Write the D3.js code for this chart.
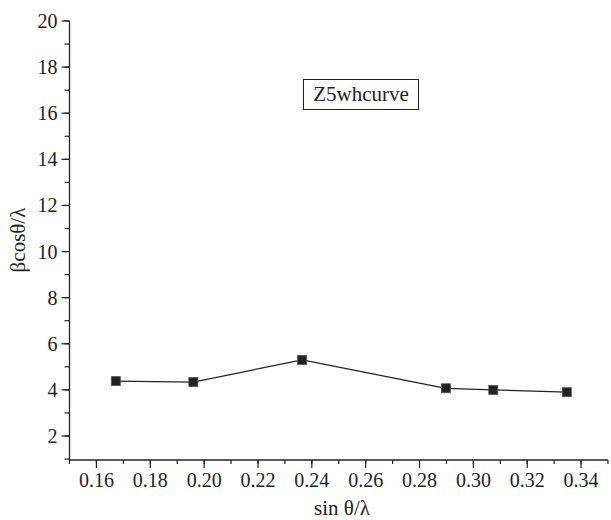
<!DOCTYPE html>
<html>
<head>
<meta charset="utf-8">
<script src="https://cdn.jsdelivr.net/npm/d3@7"></script>
<style>
  body { margin: 0; background: #fff; }
</style>
</head>
<body>
<svg id="chart" width="611" height="520"></svg>
<script>
// data
const sinThetaLambda = [0.1672, 0.1960, 0.2364, 0.2898, 0.3074, 0.3347];
const betaCosTheta = [4.38, 4.34, 5.30, 4.07, 4.00, 3.90];
const xTicks = [0.16, 0.18, 0.20, 0.22, 0.24, 0.26, 0.28, 0.30, 0.32, 0.34];
const yTicks = [2, 4, 6, 8, 10, 12, 14, 16, 18, 20];
const seriesName = "Z5whcurve";

// use a Times-like face if it is there, otherwise DejaVu Serif scaled down
const ctx = document.createElement("canvas").getContext("2d");
function w(f) { ctx.font = "40px " + f; return ctx.measureText("Z5whcurve0.16").width; }
const hasTimes = w("'Liberation Serif', monospace") !== w("monospace");
const font = hasTimes ? "'Liberation Serif', serif" : "'DejaVu Serif', serif";
const fs = hasTimes ? 20 : 16;
const fsBig = hasTimes ? 21 : 17;

const svg = d3.select("#chart")
  .attr("font-family", font).attr("fill", "#222");

const x = d3.scaleLinear().domain([0.15, 0.35]).range([69.5, 608]);
const y = d3.scaleLinear().domain([2, 20]).range([436, 21]);

const ink = "#222";

// x axis
const gx = svg.append("g").attr("transform", "translate(0,460)");
gx.append("line").attr("x1", x(0.15)).attr("x2", x(0.35))
  .attr("stroke", ink).attr("stroke-width", 1.3);
d3.range(0.15, 0.3501, 0.01).forEach(v => {
  gx.append("line").attr("x1", x(v)).attr("x2", x(v))
    .attr("y1", 0).attr("y2", 4).attr("stroke", ink).attr("stroke-width", 1.2);
});
xTicks.forEach(v => {
  gx.append("line").attr("x1", x(v)).attr("x2", x(v))
    .attr("y1", 0).attr("y2", 8).attr("stroke", ink).attr("stroke-width", 1.2);
  gx.append("text").attr("x", x(v)).attr("y", 27)
    .attr("text-anchor", "middle").attr("font-size", fs)
    .attr("font-family", font).text(v.toFixed(2));
});

// y axis
const gy = svg.append("g").attr("transform", "translate(69.5,0)");
gy.append("line").attr("y1", 460).attr("y2", y(20))
  .attr("stroke", ink).attr("stroke-width", 1.3);
d3.range(1, 20.5, 1).forEach(v => {
  gy.append("line").attr("y1", y(v)).attr("y2", y(v))
    .attr("x1", 0).attr("x2", -5).attr("stroke", ink).attr("stroke-width", 1.2);
});
yTicks.forEach(v => {
  gy.append("line").attr("y1", y(v)).attr("y2", y(v))
    .attr("x1", 0).attr("x2", -8).attr("stroke", ink).attr("stroke-width", 1.2);
  gy.append("text").attr("x", -12).attr("y", y(v)).attr("dy", "0.35em")
    .attr("text-anchor", "end").attr("font-size", fs)
    .attr("font-family", font).text(v);
});

// axis titles
svg.append("text").attr("x", 342).attr("y", 515)
  .attr("text-anchor", "middle").attr("font-size", fsBig)
  .attr("font-family", font).text("sin θ/λ");
svg.append("text").attr("transform", "translate(25,240) rotate(-90)")
  .attr("text-anchor", "middle").attr("font-size", fsBig)
  .attr("font-family", font).text("βcosθ/λ");

// line and markers
const pts = sinThetaLambda.map((s, i) => ({ s: s, b: betaCosTheta[i] }));
svg.append("path").datum(pts)
  .attr("fill", "none").attr("stroke", ink).attr("stroke-width", 1.3)
  .attr("d", d3.line().x(d => x(d.s)).y(d => y(d.b)));
svg.append("g").selectAll("rect").data(pts).enter().append("rect")
  .attr("x", d => x(d.s) - 4.5).attr("y", d => y(d.b) - 4.5)
  .attr("width", 9).attr("height", 9)
  .attr("fill", "#222").attr("stroke", "#555").attr("stroke-width", 0.8);

// legend box
const lg = svg.append("g");
const lt = lg.append("text").attr("x", 361).attr("y", 100.5)
  .attr("text-anchor", "middle")
  .attr("font-size", fsBig).attr("font-family", font).text(seriesName);
lg.insert("rect", "text").attr("x", 303.5).attr("y", 79.5)
  .attr("width", 115).attr("height", 30)
  .attr("fill", "#fff").attr("stroke", ink).attr("stroke-width", 1);
</script>
</body>
</html>
